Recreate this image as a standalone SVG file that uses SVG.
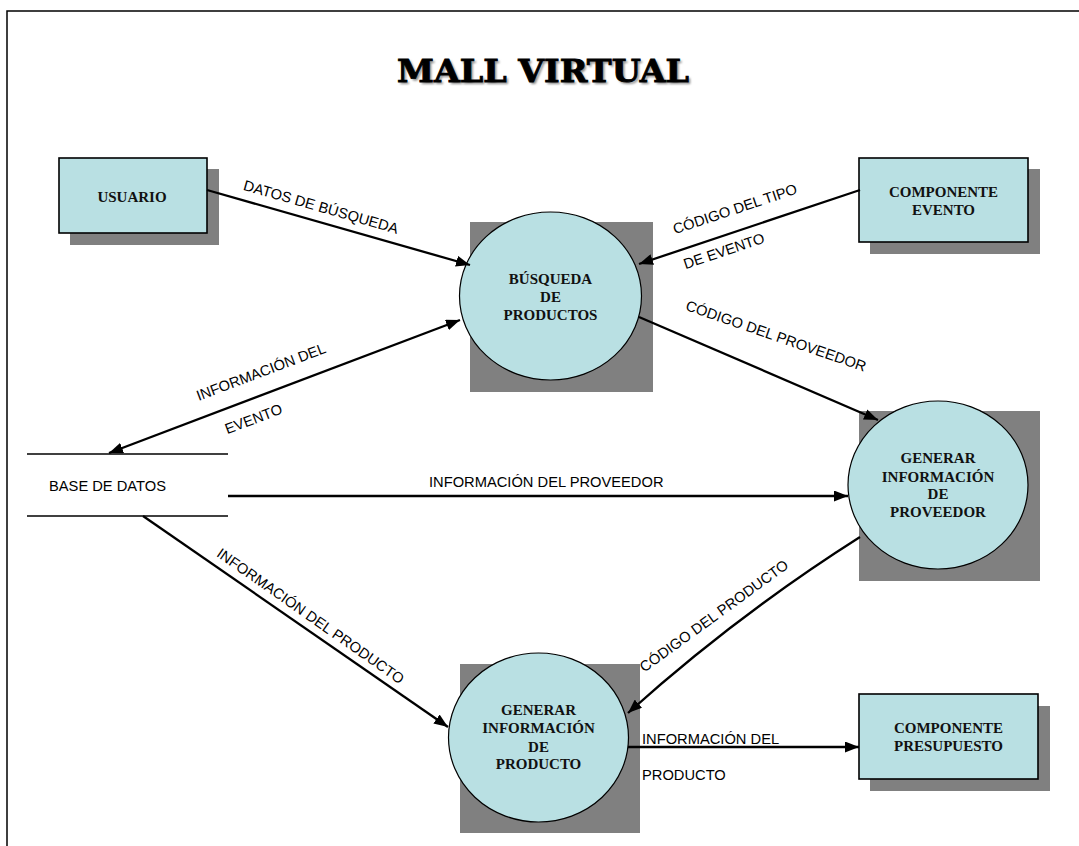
<svg xmlns="http://www.w3.org/2000/svg" width="1079" height="846" viewBox="0 0 1079 846">
<defs>
<marker id="ah" markerUnits="userSpaceOnUse" markerWidth="15" markerHeight="11" refX="14" refY="5.5" orient="auto-start-reverse">
<path d="M0,0 L14,5.5 L0,11 z" fill="#000"/>
</marker>
<filter id="blur" x="-5%" y="-20%" width="110%" height="140%"><feGaussianBlur stdDeviation="1"/></filter>
<style>
.sh{fill:#808080;}
.nd{fill:#B9E0E3;stroke:#000;stroke-width:1.2;}
.rn{fill:#B9E0E3;stroke:#000;stroke-width:1.6;}
.nt{font-family:"Liberation Serif","Times New Roman",serif;font-weight:bold;font-size:15px;fill:#111;text-anchor:middle;}
.lb{font-family:"Liberation Sans",Arial,sans-serif;font-size:14.7px;fill:#000;}
.lc{text-anchor:middle;}
.cn{stroke:#000;stroke-width:2.3;fill:none;marker-end:url(#ah);}
.st{stroke:#000;stroke-width:1.5;}
.tt{font-family:"DejaVu Serif",serif;font-weight:bold;font-size:31px;}
</style>
</defs>
<rect x="7" y="11" width="1090" height="850" fill="#fff" stroke="#000" stroke-width="1.5"/>
<g id="title">
<text class="tt" x="399" y="84" textLength="292" lengthAdjust="spacingAndGlyphs" fill="#888" filter="url(#blur)">MALL VIRTUAL</text>
<text class="tt" x="397" y="82" textLength="292" lengthAdjust="spacingAndGlyphs" fill="#000" stroke="#000" stroke-width="0.9">MALL VIRTUAL</text>
</g>
<g id="usuario">
<rect class="sh" x="70" y="169" width="149" height="76"/>
<rect class="rn" x="59" y="158" width="148" height="75"/>
<text class="nt" x="132" y="202">USUARIO</text>
</g>
<g id="componente-evento">
<rect class="sh" x="870" y="169" width="170" height="85"/>
<rect class="rn" x="859" y="158" width="169" height="84"/>
<text class="nt" x="943.5" y="197">COMPONENTE</text>
<text class="nt" x="943.5" y="214.5">EVENTO</text>
</g>
<g id="busqueda">
<rect class="sh" x="470" y="222" width="183" height="170"/>
<ellipse class="nd" cx="550.5" cy="296" rx="91" ry="84"/>
<text class="nt" x="550.5" y="284">BÚSQUEDA</text>
<text class="nt" x="550.5" y="302">DE</text>
<text class="nt" x="550.5" y="319.5">PRODUCTOS</text>
</g>
<g id="base-datos">
<line class="st" x1="27" y1="454" x2="228" y2="454"/>
<line class="st" x1="27" y1="516" x2="228" y2="516"/>
<text class="lb" x="49" y="491">BASE DE DATOS</text>
</g>
<g id="generar-proveedor">
<rect class="sh" x="859" y="411" width="181" height="170"/>
<ellipse class="nd" cx="938" cy="485" rx="90" ry="84"/>
<text class="nt" x="938" y="463">GENERAR</text>
<text class="nt" x="938" y="482">INFORMACIÓN</text>
<text class="nt" x="938" y="499">DE</text>
<text class="nt" x="938" y="517">PROVEEDOR</text>
</g>
<g id="generar-producto">
<rect class="sh" x="460" y="664" width="180" height="169"/>
<ellipse class="nd" cx="538.5" cy="737.5" rx="90" ry="84.5"/>
<text class="nt" x="538.5" y="715">GENERAR</text>
<text class="nt" x="538.5" y="733">INFORMACIÓN</text>
<text class="nt" x="538.5" y="752">DE</text>
<text class="nt" x="538.5" y="769">PRODUCTO</text>
</g>
<g id="componente-presupuesto">
<rect class="sh" x="870" y="706" width="180" height="85"/>
<rect class="rn" x="859" y="694" width="179" height="85"/>
<text class="nt" x="948.5" y="733">COMPONENTE</text>
<text class="nt" x="948.5" y="751">PRESUPUESTO</text>
</g>
<g id="connectors">
<path class="cn" d="M207,190 L470,265"/>
<path class="cn" d="M860,190 L639,264"/>
<path class="cn" d="M639,317 L878,420"/>
<path class="cn" d="M109,453 L460,320" marker-start="url(#ah)"/>
<path class="cn" d="M228,496 L848,496"/>
<path class="cn" d="M143,516 L448,727"/>
<path class="cn" d="M860,537 Q737,615 628,713"/>
<path class="cn" d="M628,747 L859,747"/>
<text class="lb lc" transform="translate(321,207) rotate(16)" y="5">DATOS DE BÚSQUEDA</text>
<text class="lb lc" transform="translate(735,209) rotate(-18.5)" y="5">CÓDIGO DEL TIPO</text>
<text class="lb lc" transform="translate(724,251) rotate(-18.5)" y="5">DE EVENTO</text>
<text class="lb lc" transform="translate(776,336) rotate(19)" y="5">CÓDIGO DEL PROVEEDOR</text>
<text class="lb lc" transform="translate(261,372) rotate(-20.75)" y="5">INFORMACIÓN DEL</text>
<text class="lb lc" transform="translate(253.5,419) rotate(-20.75)" y="5">EVENTO</text>
<text class="lb" x="429" y="487">INFORMACIÓN DEL PROVEEDOR</text>
<text class="lb lc" transform="translate(310.5,616) rotate(35)" y="5">INFORMACIÓN DEL PRODUCTO</text>
<text class="lb lc" transform="translate(714,616) rotate(-36)" y="5">CÓDIGO DEL PRODUCTO</text>
<text class="lb" x="642" y="744">INFORMACIÓN DEL</text>
<text class="lb" x="642" y="780">PRODUCTO</text>
</g>
</svg>
